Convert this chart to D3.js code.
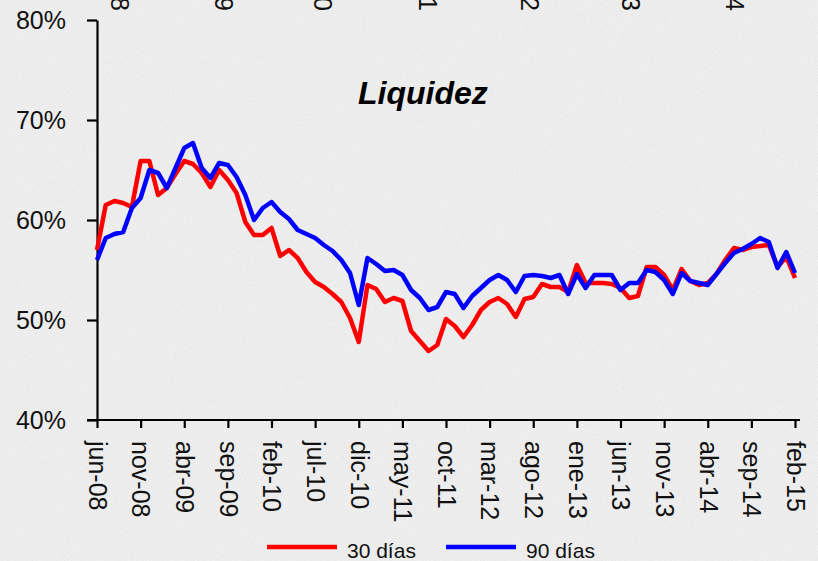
<!DOCTYPE html>
<html>
<head>
<meta charset="utf-8">
<script src="https://cdn.jsdelivr.net/npm/d3@7"></script>
<style>
  html, body { margin: 0; padding: 0; background: #efefef; }
  svg { display: block; font-family: "Liberation Sans", Arial, sans-serif; }
</style>
</head>
<body>
<div id="chart"></div>
<script>
// meses (jun-08 .. feb-15)
var monthNames = ["ene","feb","mar","abr","may","jun","jul","ago","sep","oct","nov","dic"];
var categories = [];
for (var i = 0; i < 81; i++) {
    var m = (5 + i) % 12, yr = 8 + Math.floor((5 + i) / 12);
    categories.push(monthNames[m] + "-" + (yr < 10 ? "0" + yr : "" + yr));
}

var tickLabels = ["jun-08","nov-08","abr-09","sep-09","feb-10","jul-10","dic-10","may-11","oct-11",
                  "mar-12","ago-12","ene-13","jun-13","nov-13","abr-14","sep-14","feb-15"];

var yTicks = [0.4, 0.5, 0.6, 0.7, 0.8];

// 30 dias
var serie30 = [57.0,61.5,61.9,61.7,61.3,65.9,65.9,62.5,63.2,64.6,
               65.9,65.6,64.7,63.3,65.0,64.0,62.7,59.8,58.5,58.5,
               59.2,56.4,57.0,56.2,54.8,53.8,53.3,52.6,51.8,50.2,
               47.8,53.5,53.1,51.8,52.2,51.9,48.9,47.9,46.9,47.5,
               50.1,49.4,48.3,49.5,51.0,51.8,52.2,51.6,50.3,52.1,
               52.3,53.6,53.3,53.3,52.8,55.5,53.7,53.7,53.7,53.6,
               53.2,52.2,52.4,55.3,55.3,54.5,53.0,55.1,53.9,53.5,
               53.7,54.6,56.0,57.2,57.0,57.3,57.4,57.5,55.3,56.3,
               54.2];

// 90 dias
var serie90 = [56.0,58.2,58.6,58.8,61.2,62.2,65.0,64.7,63.2,65.2,
               67.2,67.7,65.2,64.2,65.7,65.5,64.3,62.5,60.0,61.2,
               61.8,60.8,60.1,59.0,58.6,58.2,57.5,56.9,56.0,54.7,
               51.5,56.2,55.6,54.9,55.0,54.5,53.0,52.2,51.0,51.3,
               52.8,52.6,51.2,52.4,53.2,54.0,54.5,54.0,52.8,54.4,
               54.5,54.4,54.2,54.5,52.6,54.6,53.2,54.5,54.5,54.5,
               53.0,53.7,53.7,55.0,54.8,54.0,52.6,54.7,53.9,53.7,
               53.5,54.6,55.7,56.7,57.1,57.6,58.2,57.8,55.2,56.8,
               54.7];

var legendNames = ["30 días", "90 días"];
var colors = ["#ff0000", "#0000ff"];

// restos de etiquetas del grafico superior (recortadas)
var topLabels = ["dic-08","dic-09","dic-10","dic-11","dic-12","dic-13","dic-14"];
var topLabelX = [120, 224, 323, 428, 530, 631, 735];

var width = 818, height = 561;

svg = d3.select("#chart")
        .append("svg")
        .attr("width", width)
        .attr("height", height);

// fondo tipo papel
var defs = svg.append("defs");
var f = defs.append("filter").attr("id", "paper").attr("x", 0).attr("y", 0).attr("width", "100%").attr("height", "100%");
f.append("feTurbulence").attr("type", "fractalNoise").attr("baseFrequency", "0.9").attr("numOctaves", 2).attr("seed", 4);
f.append("feColorMatrix").attr("type", "matrix")
 .attr("values", "0 0 0 0 0.55  0 0 0 0 0.55  0 0 0 0 0.55  0 0 0 -0.9 0.55");

svg.append("rect").attr("width", width).attr("height", height).attr("fill", "#efefef");
svg.append("rect").attr("width", width).attr("height", height).attr("filter", "url(#paper)").attr("opacity", 0.5);

var x = d3.scalePoint(categories, [97, 795]);
var y = d3.scaleLinear([0.4, 0.8], [420, 20]);

// etiquetas cortadas arriba
svg.append("g").selectAll("text")
   .data(topLabels)
   .join("text")
   .attr("transform", function(d, i){ return "translate(" + topLabelX[i] + ",11) rotate(90)"; })
   .attr("text-anchor", "end")
   .attr("dy", "0.35em")
   .attr("font-size", 25)
   .attr("fill", "#111")
   .text(function(d){ return d; });

// eje Y
var yAxis = svg.append("g")
    .attr("transform", "translate(97,0)")
    .call(d3.axisLeft(y).tickValues(yTicks).tickFormat(d3.format(".0%")).tickSize(10).tickSizeOuter(0));
yAxis.select(".domain").attr("stroke", "#000").attr("stroke-width", 2.2);
yAxis.selectAll(".tick line").attr("stroke", "#000").attr("stroke-width", 2.2);
yAxis.selectAll(".tick text")
     .attr("x", -31)
     .attr("font-size", 25)
     .attr("font-family", "Liberation Sans, Arial, sans-serif")
     .attr("fill", "#111");

// eje X
var xAxis = svg.append("g")
    .attr("transform", "translate(0,420)")
    .call(d3.axisBottom(x).tickValues(tickLabels).tickSize(8).tickSizeOuter(0));
xAxis.select(".domain").attr("d", "M87,0H800").attr("stroke", "#000").attr("stroke-width", 2.2);
xAxis.selectAll(".tick line").attr("stroke", "#000").attr("stroke-width", 2.2);
xAxis.selectAll(".tick text")
     .attr("font-size", 25)
     .attr("font-family", "Liberation Sans, Arial, sans-serif")
     .attr("fill", "#111")
     .attr("text-anchor", "start")
     .attr("transform", "rotate(90)")
     .attr("x", 21)
     .attr("y", 0)
     .attr("dy", "0.35em");

// lineas
var line = d3.line()
    .x(function(d, i){ return x(categories[i]); })
    .y(function(d){ return y(d / 100); });

[serie30, serie90].forEach(function(s, k){
    svg.append("path")
       .datum(s)
       .attr("fill", "none")
       .attr("stroke", colors[k])
       .attr("stroke-width", 4.5)
       .attr("stroke-linejoin", "round")
       .attr("d", line);
});

// titulo
svg.append("text")
   .attr("x", 358)
   .attr("y", 104)
   .attr("font-size", 32)
   .attr("font-weight", "bold")
   .attr("font-style", "italic")
   .attr("fill", "#000")
   .text("Liquidez");

// leyenda
var legendX = [267, 446];
var leg = svg.append("g").selectAll("g")
    .data(legendNames)
    .join("g")
    .attr("transform", function(d, i){ return "translate(" + legendX[i] + ",547)"; });
leg.append("line")
   .attr("x1", 0).attr("x2", 70)
   .attr("stroke", function(d, i){ return colors[i]; })
   .attr("stroke-width", 4.5);
leg.append("text")
   .attr("x", 80)
   .attr("y", 11)
   .attr("font-size", 21)
   .attr("fill", "#111")
   .text(function(d){ return d; });
</script>
</body>
</html>
